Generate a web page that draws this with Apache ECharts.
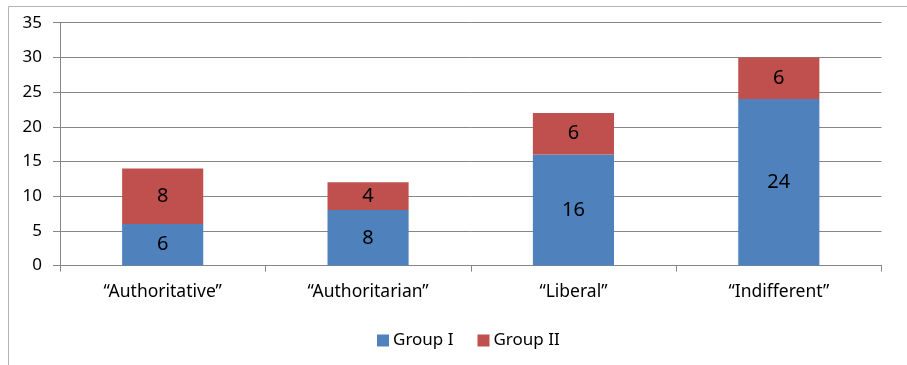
<!DOCTYPE html>
<html>
<head>
<meta charset="utf-8">
<script src="https://cdn.jsdelivr.net/npm/echarts@6/dist/echarts.min.js"></script>
<style>
  html, body { margin: 0; padding: 0; background: #fff; }
  #chart { width: 907px; height: 365px; }
</style>
</head>
<body>
<div id="chart"></div>
<script>
// 分类与两组数值（堆叠柱状图）
const categories = ['“Authoritative”', '“Authoritarian”', '“Liberal”', '“Indifferent”'];
const groupOne = [6, 8, 16, 24];
const groupTwo = [8, 4, 6, 6];
const seriesNames = ['Group I', 'Group II'];

const chart = echarts.init(document.getElementById('chart'));
const font = 'Noto Sans';

const labelStyle = { show: true, position: 'inside', color: '#000', fontSize: 20, fontFamily: font };

chart.setOption({
    animation: false,
    // 外框（只露出左边和上边）
    graphic: [{
        type: 'rect',
        shape: { x: 8.5, y: 6.5, width: 1200, height: 1200 },
        style: { fill: 'none', stroke: '#b4b4b4', lineWidth: 1 },
        silent: true
    }],
    grid: { left: 60, right: 25.5, top: 22.7, bottom: 99.4 },
    legend: {
        left: 372, top: 327,
        padding: 5,
        itemWidth: 12, itemHeight: 12, itemGap: 24,
        icon: 'rect',
        textStyle: { fontSize: 17, fontFamily: font, color: '#000', padding: [0, 0, 0, -1] },
        data: seriesNames
    },
    xAxis: {
        type: 'category',
        data: categories,
        axisLine: { lineStyle: { color: '#868686' } },
        axisTick: { show: true, length: 6, lineStyle: { color: '#868686' } },
        axisLabel: { fontSize: 17.5, fontFamily: font, color: '#000', margin: 17 }
    },
    yAxis: {
        type: 'value',
        min: 0, max: 35, interval: 5,
        axisLine: { show: true, lineStyle: { color: '#868686' } },
        axisTick: { show: true, length: 7, lineStyle: { color: '#868686' } },
        splitLine: { lineStyle: { color: '#868686' } },
        axisLabel: { fontSize: 17, fontFamily: font, color: '#000', margin: 18 }
    },
    series: [
        {
            name: seriesNames[0], type: 'bar', stack: 'total', barWidth: '39.5%',
            itemStyle: { color: '#4F81BD' },
            label: labelStyle,
            data: groupOne
        },
        {
            name: seriesNames[1], type: 'bar', stack: 'total', barWidth: '39.5%',
            itemStyle: { color: '#C0504D' },
            label: labelStyle,
            data: groupTwo
        }
    ]
});
</script>
</body>
</html>
